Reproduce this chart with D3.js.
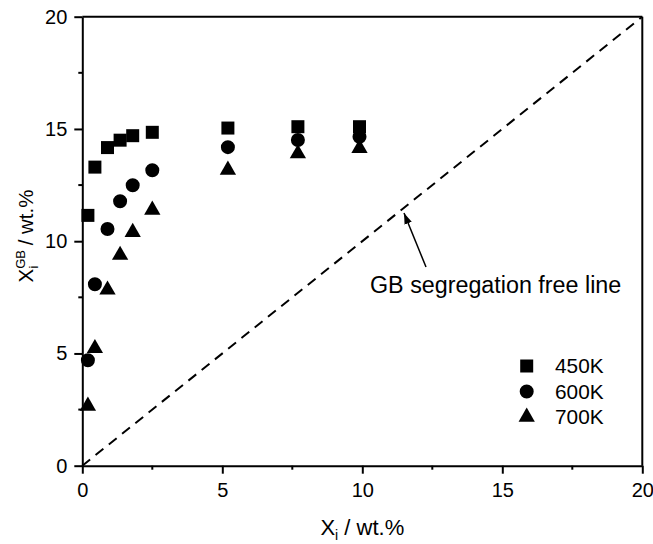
<!DOCTYPE html>
<html><head><meta charset="utf-8">
<script src="https://cdn.jsdelivr.net/npm/d3@7"></script>
<style>body{margin:0;background:#fff}svg{display:block}text{font-family:"Liberation Sans",Arial,sans-serif;fill:#000}</style>
</head><body><svg id="c" width="653" height="544"></svg>
<script>
const xValues = [0.2, 0.45, 0.9, 1.35, 1.8, 2.5, 5.2, 7.7, 9.9];
const series450K = [11.15, 13.3, 14.17, 14.5, 14.7, 14.85, 15.04, 15.1, 15.1];
const series600K = [4.7, 8.08, 10.54, 11.78, 12.49, 13.16, 14.19, 14.51, 14.65];
const series700K = [2.66, 5.23, 7.83, 9.38, 10.4, 11.39, 13.17, 13.9, 14.14];
const seriesNames = ["450K", "600K", "700K"];
const majorTicks = [0, 5, 10, 15, 20];
const minorTicks = [2.5, 7.5, 12.5, 17.5];
const refLine = [[0, 0], [20, 20]];

const svg = d3.select("#c");
const x = d3.scaleLinear().domain([0, 20]).range([82.3, 642.3]);
const y = d3.scaleLinear().domain([0, 20]).range([465.7, 16.7]);

// dashed reference line
svg.append("path").attr("d", d3.line().x(d => x(d[0])).y(d => y(d[1]))(refLine))
  .attr("fill", "none").attr("stroke", "#000").attr("stroke-width", 2).attr("stroke-dasharray", "10,7");

// frame top/right
svg.append("line").attr("x1", x(0)).attr("x2", x(20)).attr("y1", y(20)).attr("y2", y(20)).attr("stroke", "#000").attr("stroke-width", 2);
svg.append("line").attr("x1", x(20)).attr("x2", x(20)).attr("y1", y(0)).attr("y2", y(20)).attr("stroke", "#000").attr("stroke-width", 2);

const fs = 20;
const xAxis = svg.append("g").attr("transform", `translate(0,${y(0)})`)
  .call(d3.axisBottom(x).tickValues(majorTicks).tickSize(8).tickSizeOuter(0).tickPadding(9).tickFormat(d3.format("d")));
const yAxis = svg.append("g").attr("transform", `translate(${x(0)},0)`)
  .call(d3.axisLeft(y).tickValues(majorTicks).tickSize(8).tickSizeOuter(0).tickPadding(7).tickFormat(d3.format("d")));
xAxis.append("g").selectAll("line").data(minorTicks).join("line")
  .attr("x1", d => x(d)).attr("x2", d => x(d)).attr("y1", 0).attr("y2", 4).attr("stroke", "#000").attr("stroke-width", 2);
yAxis.append("g").selectAll("line").data(minorTicks).join("line")
  .attr("y1", d => y(d)).attr("y2", d => y(d)).attr("x1", 0).attr("x2", -4).attr("stroke", "#000").attr("stroke-width", 2);
[xAxis, yAxis].forEach(a => {
  a.selectAll(".domain").attr("stroke-width", 2);
  a.selectAll(".tick line").attr("stroke-width", 2);
  a.selectAll("text").attr("font-family", "Liberation Sans, Arial, sans-serif").attr("font-size", fs).attr("fill", "#000");
});

// markers
const symbols = [d3.symbol().type(d3.symbolSquare).size(169), d3.symbol().type(d3.symbolCircle).size(154), d3.symbol().type(d3.symbolTriangle).size(115)];
const allSeries = [series450K, series600K, series700K];
allSeries.forEach((s, i) => {
  svg.append("g").selectAll("path").data(s).join("path")
    .attr("d", symbols[i]).attr("fill", "#000")
    .attr("transform", (d, j) => `translate(${x(xValues[j])},${y(d)})`);
});

// legend
const lg = svg.append("g");
seriesNames.forEach((n, i) => {
  const yy = 366 + i * 25.5;
  lg.append("path").attr("d", symbols[i]).attr("fill", "#000").attr("transform", `translate(526.7,${yy})`);
  lg.append("text").attr("x", 555).attr("y", yy).attr("dy", "0.36em").attr("font-size", 20.8).text(n);
});

// annotation
svg.append("text").attr("x", 370).attr("y", 293).attr("font-size", 23.3).text("GB segregation free line");
svg.append("defs").append("marker").attr("id", "ah").attr("viewBox", "0 0 10 10").attr("refX", 10).attr("refY", 5)
  .attr("markerWidth", 11).attr("markerHeight", 11).attr("markerUnits", "userSpaceOnUse").attr("orient", "auto")
  .append("path").attr("d", "M0,1.5 L10,5 L0,8.5 Z").attr("fill", "#000");
svg.append("line").attr("x1", 426).attr("y1", 267).attr("x2", 404).attr("y2", 213)
  .attr("stroke", "#000").attr("stroke-width", 1.5).attr("marker-end", "url(#ah)");

// axis titles
const xt = svg.append("text").attr("x", x(10)).attr("y", 535).attr("text-anchor", "middle").attr("font-size", 22);
xt.append("tspan").text("X");
xt.append("tspan").attr("font-size", 14).attr("dy", 5).text("i");
xt.append("tspan").attr("dy", -5).text(" / wt.%");

const yt = svg.append("text").attr("transform", `translate(33,236) rotate(-90)`).attr("text-anchor", "middle").attr("font-size", 20.5);
yt.append("tspan").text("X");
yt.append("tspan").attr("font-size", 13).attr("dy", -8).text("GB");
yt.append("tspan").attr("font-size", 13).attr("dx", -18.5).attr("dy", 13).text("i");
yt.append("tspan").attr("dy", -5).attr("dx", 14.5).text(" / wt.%");
</script></body></html>
